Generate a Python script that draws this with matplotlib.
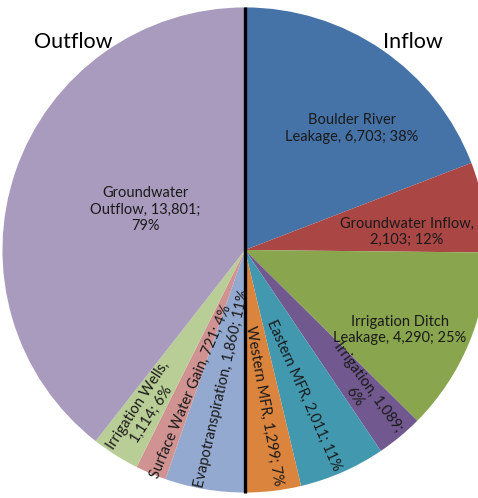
import numpy as np
import matplotlib
matplotlib.use("Agg")
import matplotlib.pyplot as plt

# clockwise from 12 o'clock: inflows (right half), then outflows (left half)
names = ["Boulder River Leakage", "Groundwater Inflow", "Irrigation Ditch Leakage",
         "Irrigation", "Eastern MFR", "Western MFR",
         "Evapotranspiration", "Surface Water Gain", "Irrigation Wells",
         "Groundwater Outflow"]
values = [6703, 2103, 4290, 1089, 2011, 1299, 1860, 721, 1114, 13801]
labels = ["Boulder River\nLeakage, 6,703; 38%",
          "Groundwater Inflow,\n2,103; 12%",
          "Irrigation Ditch\nLeakage, 4,290; 25%",
          "Irrigation, 1,089;\n6%",
          "Eastern MFR, 2,011; 11%",
          "Western MFR, 1,299; 7%",
          "Evapotranspiration, 1,860; 11%",
          "Surface Water Gain, 721; 4%",
          "Irrigation Wells,\n1,114; 6%",
          "Groundwater\nOutflow, 13,801;\n79%"]
colors = ["#4572A7", "#AA4643", "#89A54E", "#71588F", "#4198AF", "#DB843D",
          "#93A9CF", "#D19392", "#B9CD96", "#A99BBD"]

# label placement: (radius fraction, angle in degrees, rotation)
label_pos = [(0.66, 48.7, 0), (0.665, 6.5, 0), (0.71, -27.3, 0),
             (0.75, -50.7, -54), (0.64, -68, -66), (0.64, -83, -80),
             (0.575, -99.5, 77), (0.62, -111, 67), (0.77, -122, 57),
             (0.44, 158, 0)]

plt.rcParams["font.family"] = ["Lato", "DejaVu Sans"]

fig = plt.figure(figsize=(4.78, 4.98), dpi=100)
ax = fig.add_axes([0, 0, 1, 1])

wedges, _ = ax.pie(values, colors=colors, startangle=90, counterclock=False,
                   radius=0.99, center=(0, 0), wedgeprops={"linewidth": 0})

for txt, (r, a, rot) in zip(labels, label_pos):
    t = np.deg2rad(a)
    ax.text(r * np.cos(t), r * np.sin(t), txt, ha="center", va="center",
            rotation=rot, rotation_mode="anchor", fontsize=10.5, color="#1a1a1a",
            linespacing=1.2)

ax.plot([0, 0], [-0.99, 0.99], color="black", linewidth=2.4, solid_capstyle="butt")

ax.text(-0.70, 0.848, "Outflow", ha="center", va="center", fontsize=15.5, color="black")
ax.text(0.686, 0.848, "Inflow", ha="center", va="center", fontsize=15.5, color="black")

ax.set_xlim(-1.0, 0.951)
ax.set_ylim(-1.012, 1.020)
ax.set_aspect("equal")
ax.axis("off")

fig.savefig("out.png", dpi=100)
